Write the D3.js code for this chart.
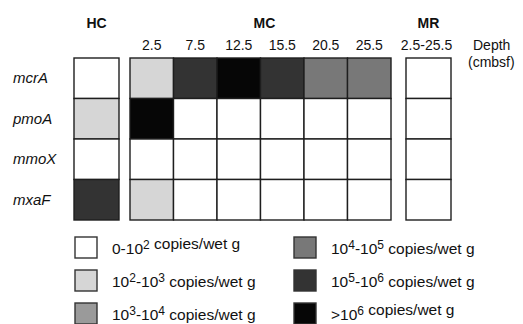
<!DOCTYPE html>
<html>
<head>
<meta charset="utf-8">
<script src="https://cdn.jsdelivr.net/npm/d3@7"></script>
<style>
  body { margin: 0; background: #fff; }
  svg { display: block; font-family: "Liberation Sans", Arial, sans-serif; }
</style>
</head>
<body>
<div id="chart"></div>
<script>
// Data
const genes = ["mcrA", "pmoA", "mmoX", "mxaF"];
const mcDepths = ["2.5", "7.5", "12.5", "15.5", "20.5", "25.5"];
const hcLevels = [0, 1, 0, 4];
const mcLevels = [
  [1, 4, 5, 4, 3, 3],
  [5, 0, 0, 0, 0, 0],
  [0, 0, 0, 0, 0, 0],
  [1, 0, 0, 0, 0, 0],
];
const mrLevels = [0, 0, 0, 0];
const levelColors = ["#ffffff", "#d6d6d6", "#9a9a9a", "#787878", "#333333", "#060606"];
const legendLabels = [
  ["0-10", "2", "", ""],
  ["10", "2", "-10", "3"],
  ["10", "3", "-10", "4"],
  ["10", "4", "-10", "5"],
  ["10", "5", "-10", "6"],
  [">10", "6", "", ""],
];

// Dimensions
const width = 523, height = 324;

const svg = d3.select("#chart").append("svg")
  .attr("width", width)
  .attr("height", height);

// Scales
const y = d3.scaleBand().domain(genes).range([58, 220]);
const xMC = d3.scaleBand().domain(mcDepths).range([130, 391]);
const xHC = d3.scaleBand().domain(["HC"]).range([74, 119]);
const xMR = d3.scaleBand().domain(["2.5-25.5"]).range([406, 451]);
const color = d3.scaleOrdinal().domain(d3.range(6)).range(levelColors);

const stroke = "#1e1e1e";

function drawCells(cells, xs) {
  svg.append("g").selectAll("rect")
    .data(cells)
    .join("rect")
    .attr("x", (d) => xs(d.col))
    .attr("y", (d) => y(d.gene))
    .attr("width", xs.bandwidth())
    .attr("height", y.bandwidth())
    .attr("fill", (d) => color(d.level))
    .attr("stroke", stroke)
    .attr("stroke-width", 1.4);
}

drawCells(genes.map((g, i) => ({ gene: g, col: "HC", level: hcLevels[i] })), xHC);
drawCells(genes.flatMap((g, i) => mcDepths.map((dp, j) => ({ gene: g, col: dp, level: mcLevels[i][j] }))), xMC);
drawCells(genes.map((g, i) => ({ gene: g, col: "2.5-25.5", level: mrLevels[i] })), xMR);

// Group headers
const headers = [
  { t: "HC", x: xHC("HC") + xHC.bandwidth() / 2 },
  { t: "MC", x: (xMC.range()[0] + xMC.range()[1]) / 2 + 4 },
  { t: "MR", x: xMR("2.5-25.5") + xMR.bandwidth() / 2 },
];
svg.append("g").selectAll("text")
  .data(headers)
  .join("text")
  .attr("x", (d) => d.x)
  .attr("y", 28)
  .attr("text-anchor", "middle")
  .attr("font-weight", "bold")
  .attr("font-size", 14)
  .attr("fill", "#111")
  .text((d) => d.t);

// Depth labels
const depthLabels = svg.append("g")
  .attr("font-size", 14)
  .attr("fill", "#111")
  .attr("text-anchor", "middle");
depthLabels.selectAll("text.mc")
  .data(mcDepths)
  .join("text")
  .attr("class", "mc")
  .attr("x", (d) => xMC(d) + xMC.bandwidth() / 2)
  .attr("y", 50)
  .text((d) => d);
depthLabels.append("text")
  .attr("x", xMR("2.5-25.5") + xMR.bandwidth() / 2 - 2)
  .attr("y", 50)
  .text("2.5-25.5");
depthLabels.append("text")
  .attr("x", 473).attr("y", 50)
  .attr("text-anchor", "start")
  .text("Depth");
depthLabels.append("text")
  .attr("x", 468).attr("y", 67)
  .attr("text-anchor", "start")
  .text("(cmbsf)");

// Gene labels
svg.append("g").selectAll("text")
  .data(genes)
  .join("text")
  .attr("x", 13)
  .attr("y", (d) => y(d) + y.bandwidth() / 2 + 5)
  .attr("font-style", "italic")
  .attr("font-size", 15)
  .attr("fill", "#111")
  .text((d) => d);

// Legend
const legendX = d3.scalePoint().domain([0, 1]).range([75, 294]);
const legendY = d3.scalePoint().domain([0, 1, 2]).range([237, 303]);
const legend = svg.append("g").selectAll("g")
  .data(legendLabels.map((l, i) => ({ l, i })))
  .join("g")
  .attr("transform", (d) => `translate(${legendX(Math.floor(d.i / 3))},${legendY(d.i % 3)})`);

legend.append("rect")
  .attr("width", 22)
  .attr("height", 21)
  .attr("fill", (d) => color(d.i))
  .attr("stroke", "#333")
  .attr("stroke-width", 1.4);

const lt = legend.append("text")
  .attr("x", 37)
  .attr("y", 17)
  .attr("font-size", 15.5)
  .attr("fill", "#111");
lt.append("tspan").text((d) => d.l[0]);
lt.append("tspan").attr("dy", -5).attr("font-size", 12).text((d) => d.l[1]);
lt.append("tspan").attr("dy", 5).text((d) => d.l[2]);
lt.append("tspan").attr("dy", (d) => d.l[3] ? -5 : 0).attr("font-size", 12).text((d) => d.l[3]);
lt.append("tspan").attr("dy", (d) => d.l[3] ? 5 : 0).text(" copies/wet g");
</script>
</body>
</html>
